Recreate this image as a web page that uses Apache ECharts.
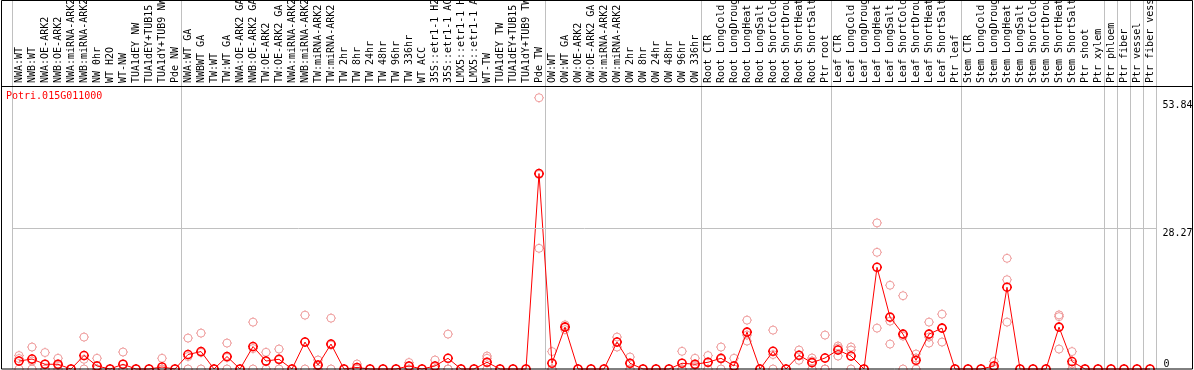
<!DOCTYPE html>
<html><head><meta charset="utf-8">
<script src="https://cdn.jsdelivr.net/npm/echarts@6/dist/echarts.min.js"></script>
<style>html,body{margin:0;padding:0;background:#fff}#c{width:1194px;height:370px}</style>
</head><body><div id="c"></div>
<script>
const geneName = 'Potri.015G011000';
const categories = [
  'NWA:WT','NWB:WT','NWA:OE-ARK2','NWB:OE-ARK2','NWA:miRNA-ARK2','NWB:miRNA-ARK2','NW 0hr','WT H2O','WT-NW',
  'TUA1dEY NW','TUA1dEY+TUB15 NW','TUA1dY+TUB9 NW','Pde NW',
  'NWA:WT GA','NWBWT GA','TW:WT','TW:WT GA','NWA:OE-ARK2 GA','NWB:OE-ARK2 GA','TW:OE-ARK2','TW:OE-ARK2 GA',
  'NWA:miRNA-ARK2','NWB:miRNA-ARK2','TW:miRNA-ARK2','TW:miRNA-ARK2','TW 2hr','TW 8hr','TW 24hr','TW 48hr','TW 96hr','TW 336hr',
  'WT ACC','35S::etr1-1 H2O','35S::etr1-1 ACC','LMX5::etr1-1 H2O','LMX5::etr1-1 ACC','WT-TW','TUA1dEY TW','TUA1dEY+TUB15 TW','TUA1dY+TUB9 TW','Pde TW',
  'OW:WT','OW:WT GA','OW:OE-ARK2','OW:OE-ARK2 GA','OW:miRNA-ARK2','OW:miRNA-ARK2','OW 2hr','OW 8hr','OW 24hr','OW 48hr','OW 96hr','OW 336hr',
  'Root CTR','Root LongCold','Root LongDrought','Root LongHeat','Root LongSalt','Root ShortCold','Root ShortDrought','Root ShortHeat','Root ShortSalt','Ptr root',
  'Leaf CTR','Leaf LongCold','Leaf LongDrought','Leaf LongHeat','Leaf LongSalt','Leaf ShortCold','Leaf ShortDrought','Leaf ShortHeat','Leaf ShortSalt','Ptr leaf',
  'Stem CTR','Stem LongCold','Stem LongDrought','Stem LongHeat','Stem LongSalt','Stem ShortCold','Stem ShortDrought','Stem ShortHeat','Stem ShortSalt','Ptr shoot',
  'Ptr xylem','Ptr phloem','Ptr fiber','Ptr vessel','Ptr fiber vessel'
];
// mean expression per sample
const means = [
  1.6,2.0,0.95,0.95,0,2.7,0.6,0,0.95,0,0,0.4,0,
  2.9,3.5,0,2.5,0,4.5,1.6,1.95,0,5.4,0.8,5.0,0,0.3,0,0,0,0.6,0,0.6,2.15,0,0,1.35,0,0,0,39.2,
  1.15,8.4,0,0,0,5.4,1.15,0,0,0,1.15,0.95,
  1.35,2.15,0.6,7.4,0,3.55,0,2.75,1.27,2.2,
  3.8,2.6,0,20.4,10.4,7.0,1.75,7.0,8.2,0,
  0,0,0.6,16.4,0,0,0,8.4,1.5,0,
  0,0,0,0,0
];
// individual replicates
const rep1 = [
  2.7,4.4,3.3,2.15,0,6.4,2.15,0,3.4,0,0,2.15,0,
  6.2,7.2,0,5.2,0,9.4,3.35,4.0,0,10.8,1.8,10.2,0,1.0,0,0,0,1.3,0,1.8,7.0,0,0,2.6,0,0,0,54.4,
  3.5,8.85,0,0,0,6.4,2.4,0,0,0,3.55,2.15,
  2.7,4.4,2.15,9.8,0,7.8,0,3.8,2.2,6.8,
  4.6,4.4,0,29.3,16.8,14.7,3.0,9.4,11.0,0,
  0,0,1.5,22.2,0,0,0,10.85,3.5,0,
  0,0,0,0,0
];
const rep2 = [
  2.1,1.6,0,0.7,0,1.95,0,0,0,0,0,0,0,
  2.5,3.3,0,2.3,0,4.1,1.5,1.85,0,5.4,0.6,4.8,0,0,0,0,0,0.5,0,0,0,0,0,2.15,0,0,0,24.2,
  0,8.5,0,0,0,4.4,1.0,0,0,0,0,0.7,
  1.3,2.0,0,6.8,0,2.9,0,2.7,1.6,0,
  4.2,3.8,0,23.4,9.6,6.6,2.2,6.4,8.2,0,
  0,0,0.3,17.9,0,0,0,10.5,1.0,0,
  0,0,0,0,0
];
const rep3 = [
  0,0,0,0,0,0,0,0,0,0,0,0,0,
  0,0,0,0,0,0,0,0,0,0,0,0,0,0,0,0,0,0,0,0,0,0,0,0,0,0,0,39.0,
  0,7.9,0,0,0,5.4,0,0,0,0,0,0,
  0,0,0,5.6,0,0,0,1.75,0,0,
  2.6,0,0,8.2,5.0,0,0,5.2,5.4,0,
  0,0,0,9.4,0,0,0,4.0,0,0,
  0,0,0,0,0
];
// first category index of each separated block
const groupStarts = [0,13,41,53,63,73,84,85,86,87];
const yLabelsUpper = [28.27, 53.84];
const yLabelsLower = [0];
const refLineValue = 28.27;

const markerPath = 'path://M5,1A4,4,0,1,1,5,9A4,4,0,1,1,5,1ZM5,0L5,1M5,9L5,10M0,5L1,5M9,5L10,5';
const mono = 'DejaVu Sans Mono';

const chart = echarts.init(document.getElementById('c'), null, {renderer: 'canvas'});
function repSeries(arr) {
  return {
    type: 'scatter', data: arr, symbol: markerPath, symbolSize: 10, z: 2, silent: true,
    itemStyle: {color: 'rgba(0,0,0,0)', borderColor: '#ef9d9d', borderWidth: 1, opacity: 1},
    clip: false
  };
}
const yAxisBase = {
  type: 'value', position: 'right', min: 0, max: 74,
  splitLine: {show: false}, axisLine: {show: false}, axisTick: {show: false}
};
chart.setOption({
  animation: false,
  backgroundColor: '#fff',
  title: {
    text: geneName, left: 6, top: 91, padding: 0,
    textStyle: {color: '#ff0000', fontFamily: mono, fontSize: 10, fontWeight: 'normal'}
  },
  grid: {left: 12.5, right: 37.5, top: 0, bottom: 1, containLabel: false, outerBoundsMode: 'none'},
  xAxis: {
    type: 'category', data: categories, position: 'top', offset: -86, boundaryGap: true,
    axisLine: {show: false}, axisTick: {show: false},
    axisLabel: {interval: 0, rotate: 90, margin: 3, fontFamily: mono, fontSize: 10, color: '#000'},
    splitLine: {show: true, interval: function (i) { return groupStarts.indexOf(i) >= 0; },
      lineStyle: {color: '#c0c0c0', width: 1}}
  },
  yAxis: [
    Object.assign({}, yAxisBase, {axisLabel: {customValues: yLabelsUpper, verticalAlign: 'top', margin: 6,
      fontFamily: mono, fontSize: 10, color: '#000'}}),
    Object.assign({}, yAxisBase, {axisLabel: {customValues: yLabelsLower, verticalAlign: 'bottom', margin: 7,
      fontFamily: mono, fontSize: 10, color: '#000'}})
  ],
  graphic: [
    {type: 'rect', z: 100, silent: true, shape: {x: 1.5, y: 0.5, width: 1191, height: 368.5},
      style: {fill: 'none', stroke: '#000', lineWidth: 1}},
    {type: 'line', z: 100, silent: true, shape: {x1: 1, y1: 86.5, x2: 1193, y2: 86.5},
      style: {stroke: '#000', lineWidth: 1}}
  ],
  series: [
    repSeries(rep1), repSeries(rep2), repSeries(rep3),
    {
      type: 'line', data: means, z: 3, silent: true, clip: false,
      symbol: markerPath, symbolSize: 10, showSymbol: true, showAllSymbol: true,
      lineStyle: {color: '#ff0000', width: 1},
      itemStyle: {color: 'rgba(0,0,0,0)', borderColor: '#ff0000', borderWidth: 1.6},
      markLine: {
        silent: true, symbol: 'none', label: {show: false},
        lineStyle: {color: '#c0c0c0', width: 1, type: 'solid'},
        data: [{yAxis: refLineValue}]
      }
    }
  ]
});
</script>
</body></html>
